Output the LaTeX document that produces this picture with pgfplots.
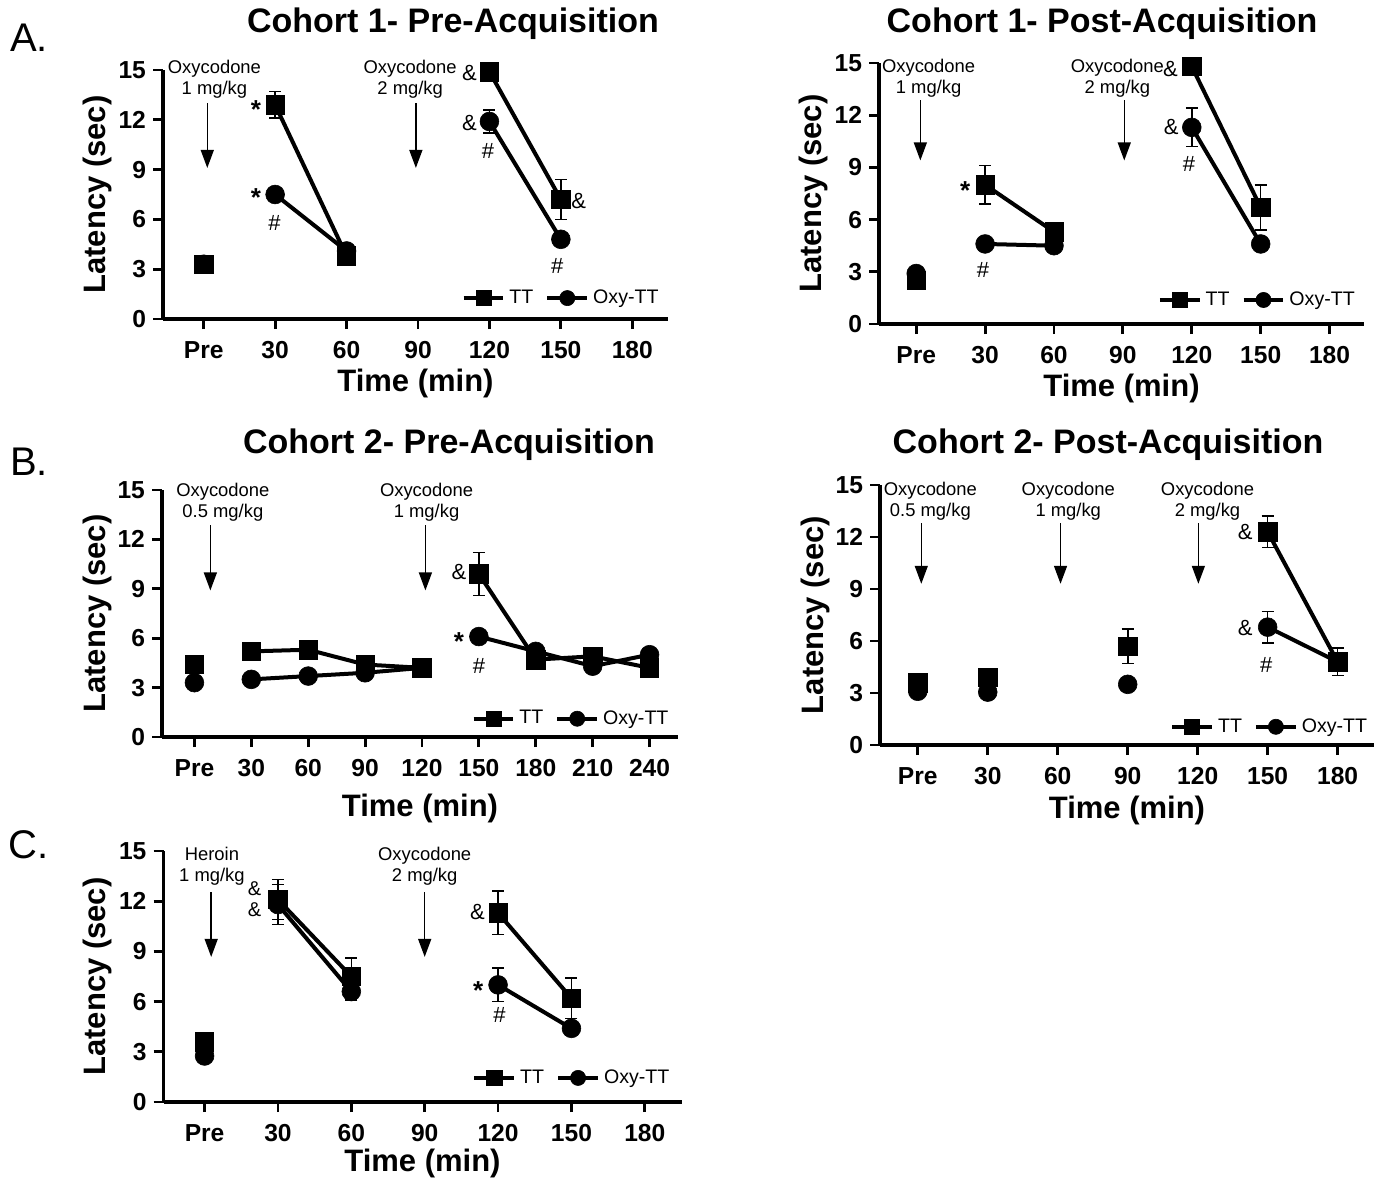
\documentclass[border=0pt]{standalone}
\usepackage{fontspec}
\setmainfont{Liberation Sans}
\usepackage{pgfplots}
\pgfplotsset{compat=1.18}
\usetikzlibrary{arrows.meta}

\newcommand\tickf{\fontsize{12.3}{14}\selectfont\bfseries}
\newcommand\labf{\fontsize{15.5}{17}\selectfont\bfseries}
\newcommand\titf{\fontsize{17}{19}\selectfont\bfseries}
\newcommand\letf{\fontsize{20}{22}\selectfont}
\newcommand\annf{\fontsize{9.2}{10.5}\selectfont}
\newcommand\sigf{\fontsize{11}{12}\selectfont}
\newcommand\starf{\fontsize{13}{14}\selectfont\bfseries}

\tikzset{arr/.style={line width=0.7pt, -{Triangle[length=9pt,width=6.5pt]}},
  sig/.style={font=\sigf, inner sep=0pt},
  star/.style={font=\starf, inner sep=0pt, yshift=-2.5pt}}

\pgfplotsset{
  panel/.style={
    scale only axis,
    axis x line*=bottom, axis y line*=left,
    ymin=0, ymax=15, ytick={0,3,...,15},
    tick align=outside, major tick length=5pt,
    every tick/.style={black, line width=1.4pt},
    axis line style={line width=1.6pt},
    tick label style={font=\tickf},
    /pgf/number format/assume math mode=true,
    xticklabel style={yshift=-3pt, text height=1.6ex, text depth=0pt},
    clip=false, unbounded coords=jump,
    legend columns=2,
    legend style={draw=none, fill=none, font=\fontsize{9.8}{11}\selectfont,
      anchor=east, inner sep=0pt,
      /tikz/every even column/.append style={column sep=4pt}},
    legend image code/.code={\draw[mark repeat=2,mark phase=2]
      plot coordinates {(0cm,0cm) (0.35cm,0cm) (0.7cm,0cm)};},
    legend image post style={mark size=3.8pt},
  },
  tt/.style={black, line width=2pt, mark=square*, mark size=4.6pt,
    mark options={solid, line width=0.3pt},
    error bars/.cd, y dir=both, y explicit,
    error bar style={line width=0.8pt},
    error mark options={rotate=90, line width=0.8pt, mark size=3pt}},
  oxy/.style={black, line width=2pt, mark=*, mark size=4.7pt,
    mark options={solid, line width=0.3pt},
    error bars/.cd, y dir=both, y explicit,
    error bar style={line width=0.8pt},
    error mark options={rotate=90, line width=0.8pt, mark size=3pt}},
}

\newcommand\xlab[1]{\node[font=\labf] at ([yshift=-#1]axis description cs:0.5,0) {Time (min)};}
\newcommand\ylab[1]{\node[font=\labf, rotate=90] at ([xshift=-#1]axis description cs:0,0.5) {Latency (sec)};}

\begin{document}
\begin{tikzpicture}
\path (0,0) rectangle (690.5pt,589pt);

% ---------- A: Cohort 1 Pre-Acquisition
\begin{axis}[panel, at={(81.5pt,429.5pt)}, anchor=south west,
  width=252.5pt, height=124.5pt, xmin=-0.57, xmax=6.5,
  xtick={0,...,6}, xticklabels={Pre,30,60,90,120,150,180},
  legend style={at={(0.99,0.084)}}]
\addplot[tt] coordinates {(0,3.3) +- (0,0.25) (0.5,nan) (1,12.9) +- (0,0.8) (2,3.8) +- (0,0.3)
  (3,nan) (4,14.9) +- (0,0.3) (5,7.2) +- (0,1.2)};
\addplot[oxy] coordinates {(0,3.3) +- (0,0.2) (0.5,nan) (1,7.5) +- (0,0.3) (2,4.1) +- (0,0.3)
  (3,nan) (4,11.9) +- (0,0.7) (5,4.8) +- (0,0.3)};
\legend{TT, Oxy-TT}
\node[font=\annf, align=center] at (axis cs:0.15,14.45) {Oxycodone\\1 mg/kg};
\node[font=\annf, align=center] at (axis cs:2.89,14.45) {Oxycodone\\2 mg/kg};
\draw[arr] (axis cs:0.05,13.0) -- (axis cs:0.05,9.1);
\draw[arr] (axis cs:2.97,13.0) -- (axis cs:2.97,9.1);
\node[star] at (axis cs:0.73,12.9) {*};
\node[star] at (axis cs:0.73,7.6) {*};
\node[sig] at (axis cs:0.99,5.8) {\#};
\node[sig] at (axis cs:3.72,14.8) {\&};
\node[sig] at (axis cs:3.72,11.8) {\&};
\node[sig] at (axis cs:3.98,10.1) {\#};
\node[sig] at (axis cs:5.25,7.08) {\&};
\node[sig] at (axis cs:4.95,3.2) {\#};
\xlab{32pt}
\ylab{33pt}
\end{axis}

% ---------- A: Cohort 1 Post-Acquisition
\begin{axis}[panel, at={(439.5pt,427pt)}, anchor=south west,
  width=242.5pt, height=130.5pt, xmin=-0.54, xmax=6.5,
  xtick={0,...,6}, xticklabels={Pre,30,60,90,120,150,180},
  legend style={at={(0.99,0.092)}}]
\addplot[tt] coordinates {(0,2.5) +- (0,0.3) (0.5,nan) (1,8.0) +- (0,1.1) (2,5.3) +- (0,0.4)
  (3,nan) (4,14.8) +- (0,0.3) (5,6.7) +- (0,1.3)};
\addplot[oxy] coordinates {(0,2.9) +- (0,0.3) (0.5,nan) (1,4.6) +- (0,0.3) (2,4.5) +- (0,0.3)
  (3,nan) (4,11.3) +- (0,1.1) (5,4.6) +- (0,0.3)};
\legend{TT, Oxy-TT}
\node[font=\annf, align=center] at (axis cs:0.18,14.13) {Oxycodone\\1 mg/kg};
\node[font=\annf, align=center] at (axis cs:2.92,14.13) {Oxycodone\\2 mg/kg};
\draw[arr] (axis cs:0.06,12.86) -- (axis cs:0.06,9.4);
\draw[arr] (axis cs:3.02,12.86) -- (axis cs:3.02,9.4);
\node[star] at (axis cs:0.71,7.98) {*};
\node[sig] at (axis cs:0.97,3.1) {\#};
\node[sig] at (axis cs:3.69,14.67) {\&};
\node[sig] at (axis cs:3.70,11.33) {\&};
\node[sig] at (axis cs:3.96,9.22) {\#};
\xlab{32pt}
\ylab{33pt}
\end{axis}

% ---------- B: Cohort 2 Pre-Acquisition
\begin{axis}[panel, at={(81pt,220.5pt)}, anchor=south west,
  width=258pt, height=123.5pt, xmin=-0.57, xmax=8.5,
  xtick={0,...,8}, xticklabels={Pre,30,60,90,120,150,180,210,240},
  legend style={at={(0.99,0.074)}}]
\addplot[tt] coordinates {(0,4.4) +- (0,0.3) (0.5,nan) (1,5.2) +- (0,0.3) (2,5.3) +- (0,0.4)
  (3,4.4) +- (0,0.3) (4,4.2) +- (0,0.3) (4.5,nan) (5,9.9) +- (0,1.3) (6,4.7) +- (0,0.3)
  (7,4.9) +- (0,0.3) (8,4.2) +- (0,0.3)};
\addplot[oxy] coordinates {(0,3.3) +- (0,0.3) (0.5,nan) (1,3.5) +- (0,0.3) (2,3.7) +- (0,0.3)
  (3,3.9) +- (0,0.3) (4,4.2) +- (0,0.3) (4.5,nan) (5,6.1) +- (0,0.3) (6,5.2) +- (0,0.3)
  (7,4.3) +- (0,0.3) (8,5.0) +- (0,0.3)};
\legend{TT, Oxy-TT}
\node[font=\annf, align=center] at (axis cs:0.5,14.28) {Oxycodone\\0.5 mg/kg};
\node[font=\annf, align=center] at (axis cs:4.08,14.28) {Oxycodone\\1 mg/kg};
\draw[arr] (axis cs:0.28,12.87) -- (axis cs:0.28,8.9);
\draw[arr] (axis cs:4.06,12.87) -- (axis cs:4.06,8.9);
\node[sig] at (axis cs:4.65,10.03) {\&};
\node[star] at (axis cs:4.65,6.08) {*};
\node[sig] at (axis cs:5.0,4.3) {\#};
\xlab{35.5pt}
\ylab{32.5pt}
\end{axis}

% ---------- B: Cohort 2 Post-Acquisition
\begin{axis}[panel, at={(440pt,216.5pt)}, anchor=south west,
  width=247pt, height=130pt, xmin=-0.54, xmax=6.52,
  xtick={0,...,6}, xticklabels={Pre,30,60,90,120,150,180},
  legend style={at={(0.995,0.07)}}]
\addplot[tt] coordinates {(0,3.6) +- (0,0.3) (0.5,nan) (1,3.9) +- (0,0.3) (1.5,nan)
  (3,5.7) +- (0,1.0) (3.5,nan) (5,12.3) +- (0,0.9) (6,4.8) +- (0,0.8)};
\addplot[oxy] coordinates {(0,3.1) +- (0,0.2) (0.5,nan) (1,3.05) +- (0,0.2) (1.5,nan)
  (3,3.5) +- (0,0.2) (3.5,nan) (5,6.8) +- (0,0.9) (6,4.8) +- (0,0.4)};
\legend{TT, Oxy-TT}
\node[font=\annf, align=center] at (axis cs:0.18,14.07) {Oxycodone\\0.5 mg/kg};
\node[font=\annf, align=center] at (axis cs:2.15,14.07) {Oxycodone\\1 mg/kg};
\node[font=\annf, align=center] at (axis cs:4.14,14.07) {Oxycodone\\2 mg/kg};
\draw[arr] (axis cs:0.05,12.8) -- (axis cs:0.05,9.3);
\draw[arr] (axis cs:2.04,12.8) -- (axis cs:2.04,9.3);
\draw[arr] (axis cs:4.01,12.8) -- (axis cs:4.01,9.3);
\node[sig] at (axis cs:4.68,12.3) {\&};
\node[sig] at (axis cs:4.68,6.73) {\&};
\node[sig] at (axis cs:4.98,4.6) {\#};
\xlab{32.5pt}
\ylab{32.5pt}
\end{axis}

% ---------- C: Heroin
\begin{axis}[panel, at={(81.75pt,38pt)}, anchor=south west,
  width=259pt, height=125.5pt, xmin=-0.56, xmax=6.5,
  xtick={0,...,6}, xticklabels={Pre,30,60,90,120,150,180},
  legend style={at={(0.985,0.096)}}]
\addplot[tt] coordinates {(0,3.6) +- (0,0.3) (0.5,nan) (1,12.1) +- (0,1.2) (2,7.5) +- (0,1.1)
  (3,nan) (4,11.3) +- (0,1.3) (5,6.2) +- (0,1.2)};
\addplot[oxy] coordinates {(0,2.75) +- (0,0.2) (0.5,nan) (1,11.8) +- (0,1.2) (2,6.6) +- (0,0.5)
  (3,nan) (4,7.0) +- (0,1.0) (5,4.4) +- (0,0.4)};
\legend{TT, Oxy-TT}
\node[font=\annf, align=center] at (axis cs:0.1,14.08) {Heroin\\1 mg/kg};
\node[font=\annf, align=center] at (axis cs:3.0,14.08) {Oxycodone\\2 mg/kg};
\draw[arr] (axis cs:0.09,12.55) -- (axis cs:0.09,8.67);
\draw[arr] (axis cs:3.0,12.55) -- (axis cs:3.0,8.67);
\node[font=\fontsize{10}{10.5}\selectfont, inner sep=0pt, align=center] at (axis cs:0.68,12.1) {\&\\\&};
\node[sig] at (axis cs:3.72,11.35) {\&};
\node[star] at (axis cs:3.73,6.97) {*};
\node[sig] at (axis cs:4.02,5.18) {\#};
\xlab{30.5pt}
\ylab{33pt}
\end{axis}

% titles and panel letters
\node[font=\titf] at (226.5pt,577pt) {Cohort 1- Pre-Acquisition};
\node[font=\titf] at (551pt,577pt) {Cohort 1- Post-Acquisition};
\node[font=\titf] at (224.5pt,366.5pt) {Cohort 2- Pre-Acquisition};
\node[font=\titf] at (554pt,366.5pt) {Cohort 2- Post-Acquisition};
\node[font=\letf] at (14.5pt,570pt) {A.};
\node[font=\letf] at (14.5pt,358pt) {B.};
\node[font=\letf] at (14.5pt,166.5pt) {C.};
\end{tikzpicture}
\end{document}
